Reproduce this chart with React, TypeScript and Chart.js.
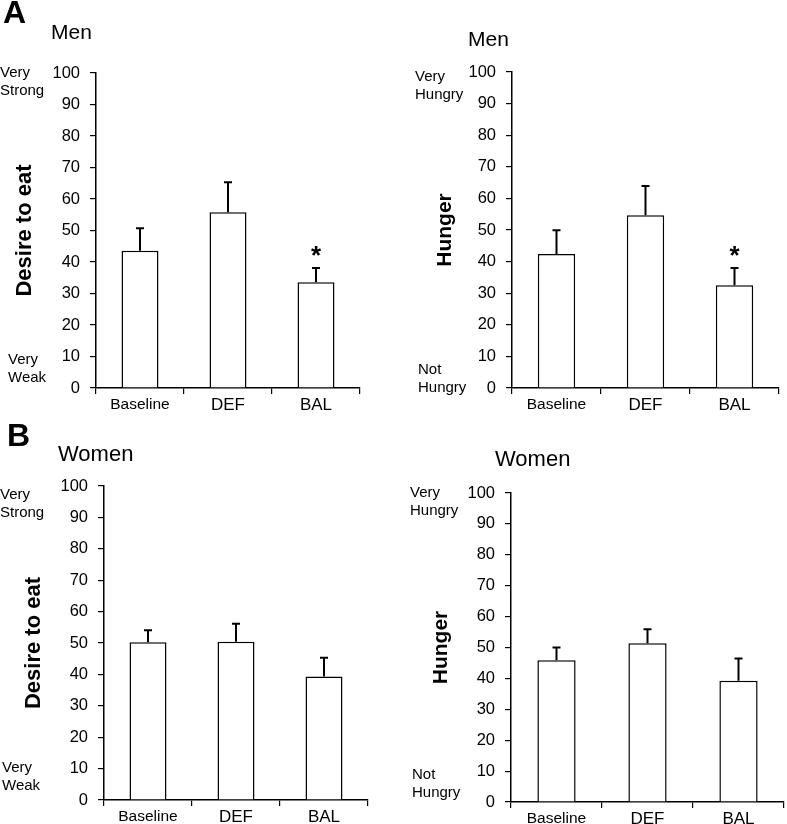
import React, { useEffect, useRef } from 'react';
import { Chart, registerables } from 'chart.js';

Chart.register(...registerables);

// ---------- data ----------
const categories = ['Baseline', 'DEF', 'BAL'];

const menDesire = [43.6, 55.8, 33.6];
const menDesireErr = [7.1, 9.5, 4.5];
const menDesireSig = [false, false, true];

const menHunger = [42.4, 54.7, 32.5];
const menHungerErr = [7.5, 9.2, 5.5];
const menHungerSig = [false, false, true];

const womenDesire = [50.2, 50.4, 39.3];
const womenDesireErr = [3.9, 5.7, 6.0];
const womenDesireSig = [false, false, false];

const womenHunger = [45.9, 51.4, 39.2];
const womenHungerErr = [4.1, 4.5, 7.2];
const womenHungerSig = [false, false, false];

const yMin = 0;
const yMax = 100;
const yStep = 10;

const desireAnchors = { high: ['Very', 'Strong'], low: ['Very', 'Weak'] };
const hungerAnchors = { high: ['Very', 'Hungry'], low: ['Not', 'Hungry'] };

// ---------- styling ----------
const FONT = "'Liberation Sans', Arial, Helvetica, sans-serif";

type PanelProps = {
  left: number; top: number; width: number; height: number;
  yWidth: number; xHeight: number; padTop: number; padRight: number; padBottom: number;
  yTitle: string; yTitleSize: number; yTitlePad: number;
  values: number[]; errors: number[]; sig: boolean[];
  subtitle: string; subtitleSize: number; subX: number; subY: number;
  letter?: string; letterX?: number; letterY?: number;
  anchors: { high: string[]; low: string[] };
  highX: number; highY: number; lowX: number; lowY: number;
};

function makeDeco(p: PanelProps) {
  return {
    id: 'panelDeco',
    afterDatasetsDraw(chart: any) {
      const ctx = chart.ctx as CanvasRenderingContext2D;
      const yScale = chart.scales.y;
      const meta = chart.getDatasetMeta(0);
      ctx.save();
      ctx.strokeStyle = '#000';
      ctx.lineWidth = 2;
      meta.data.forEach((bar: any, i: number) => {
        const x = bar.x;
        const yTop = bar.y;
        const yErr = yScale.getPixelForValue(p.values[i] + p.errors[i]);
        ctx.beginPath();
        ctx.moveTo(x, yTop);
        ctx.lineTo(x, yErr);
        ctx.moveTo(x - 4, yErr);
        ctx.lineTo(x + 4, yErr);
        ctx.stroke();
        if (p.sig[i]) {
          ctx.fillStyle = '#000';
          ctx.font = `bold 26px ${FONT}`;
          ctx.textAlign = 'center';
          ctx.textBaseline = 'middle';
          ctx.fillText('*', x, yErr - 11);
        }
      });
      ctx.restore();
    },
    afterDraw(chart: any) {
      const ctx = chart.ctx as CanvasRenderingContext2D;
      ctx.save();
      ctx.fillStyle = '#000';
      ctx.textAlign = 'left';
      ctx.textBaseline = 'middle';
      if (p.letter) {
        ctx.font = `bold 32px ${FONT}`;
        ctx.fillText(p.letter, p.letterX || 0, p.letterY || 0);
      }
      ctx.font = `${p.subtitleSize}px ${FONT}`;
      ctx.fillText(p.subtitle, p.subX, p.subY);
      ctx.font = `15px ${FONT}`;
      ctx.fillText(p.anchors.high[0], p.highX, p.highY);
      ctx.fillText(p.anchors.high[1], p.highX, p.highY + 18);
      ctx.fillText(p.anchors.low[0], p.lowX, p.lowY);
      ctx.fillText(p.anchors.low[1], p.lowX, p.lowY + 18);
      ctx.restore();
    },
  };
}

function Panel(p: PanelProps) {
  const ref = useRef<HTMLCanvasElement | null>(null);
  useEffect(() => {
    if (!ref.current) return;
    const chart = new Chart(ref.current, {
      type: 'bar',
      data: {
        labels: categories,
        datasets: [
          {
            data: p.values,
            backgroundColor: '#ffffff',
            borderColor: '#000000',
            borderWidth: 1.5,
            barPercentage: 0.42,
            categoryPercentage: 1,
          },
        ],
      },
      options: {
        animation: false,
        responsive: false,
        devicePixelRatio: 1,
        layout: { padding: { left: 0, top: p.padTop, right: p.padRight, bottom: p.padBottom } },
        plugins: { legend: { display: false }, tooltip: { enabled: false }, title: { display: false } },
        scales: {
          x: {
            type: 'category',
            offset: true,
            grid: {
              display: true,
              drawOnChartArea: false,
              drawTicks: true,
              tickLength: 6,
              color: '#000',
              lineWidth: 1.2,
              offset: true,
            },
            border: { display: true, color: '#000', width: 1.5 },
            ticks: {
              color: '#000',
              padding: 1,
              maxRotation: 0,
              font: (c: any) => ({ family: FONT, size: c.index === 0 ? 15.5 : 17 }),
            },
            afterFit: (s: any) => { s.height = p.xHeight; },
          },
          y: {
            min: yMin,
            max: yMax,
            ticks: {
              stepSize: yStep,
              color: '#000',
              padding: 10,
              font: { family: FONT, size: 16.5 },
            },
            grid: {
              display: true,
              drawOnChartArea: false,
              drawTicks: true,
              tickLength: 6,
              color: '#000',
              lineWidth: 1.2,
            },
            border: { display: true, color: '#000', width: 1.5 },
            title: {
              display: true,
              text: p.yTitle,
              color: '#000',
              font: { family: FONT, size: p.yTitleSize, weight: 'bold' },
              padding: { top: p.yTitlePad, bottom: 0 },
            },
            afterFit: (s: any) => { s.width = p.yWidth; },
          },
        },
      },
      plugins: [makeDeco(p)],
    } as any);
    return () => chart.destroy();
  }, []);
  return (
    <canvas
      ref={ref}
      width={p.width}
      height={p.height}
      style={{ position: 'absolute', left: p.left, top: p.top, width: p.width, height: p.height, display: 'block' }}
    />
  );
}

export default function App() {
  return (
    <div style={{ position: 'absolute', left: 0, top: 0, width: 787, height: 824, background: '#fff', overflow: 'hidden' }}>
      <Panel
        left={0} top={0} width={390} height={420}
        yWidth={96} xHeight={24} padTop={73} padRight={30} padBottom={8}
        yTitle="Desire to eat" yTitleSize={22} yTitlePad={12}
        values={menDesire} errors={menDesireErr} sig={menDesireSig}
        subtitle="Men" subtitleSize={21} subX={51} subY={33}
        letter="A" letterX={3} letterY={14}
        anchors={desireAnchors} highX={0} highY={73} lowX={8} lowY={360}
      />
      <Panel
        left={390} top={0} width={397} height={420}
        yWidth={122} xHeight={24} padTop={72} padRight={8} padBottom={8}
        yTitle="Hunger" yTitleSize={21} yTitlePad={43}
        values={menHunger} errors={menHungerErr} sig={menHungerSig}
        subtitle="Men" subtitleSize={21} subX={78} subY={40}
        anchors={hungerAnchors} highX={25} highY={77} lowX={28} lowY={370}
      />
      <Panel
        left={0} top={412} width={390} height={412}
        yWidth={104} xHeight={24} padTop={74} padRight={22} padBottom={0}
        yTitle="Desire to eat" yTitleSize={22} yTitlePad={21}
        values={womenDesire} errors={womenDesireErr} sig={womenDesireSig}
        subtitle="Women" subtitleSize={22} subX={58} subY={43}
        letter="B" letterX={7} letterY={25}
        anchors={desireAnchors} highX={0} highY={83} lowX={2} lowY={356}
      />
      <Panel
        left={390} top={412} width={397} height={412}
        yWidth={121} xHeight={22} padTop={81} padRight={3} padBottom={0}
        yTitle="Hunger" yTitleSize={21} yTitlePad={39}
        values={womenHunger} errors={womenHungerErr} sig={womenHungerSig}
        subtitle="Women" subtitleSize={22} subX={105} subY={48}
        anchors={hungerAnchors} highX={20} highY={81} lowX={22} lowY={363}
      />
    </div>
  );
}
